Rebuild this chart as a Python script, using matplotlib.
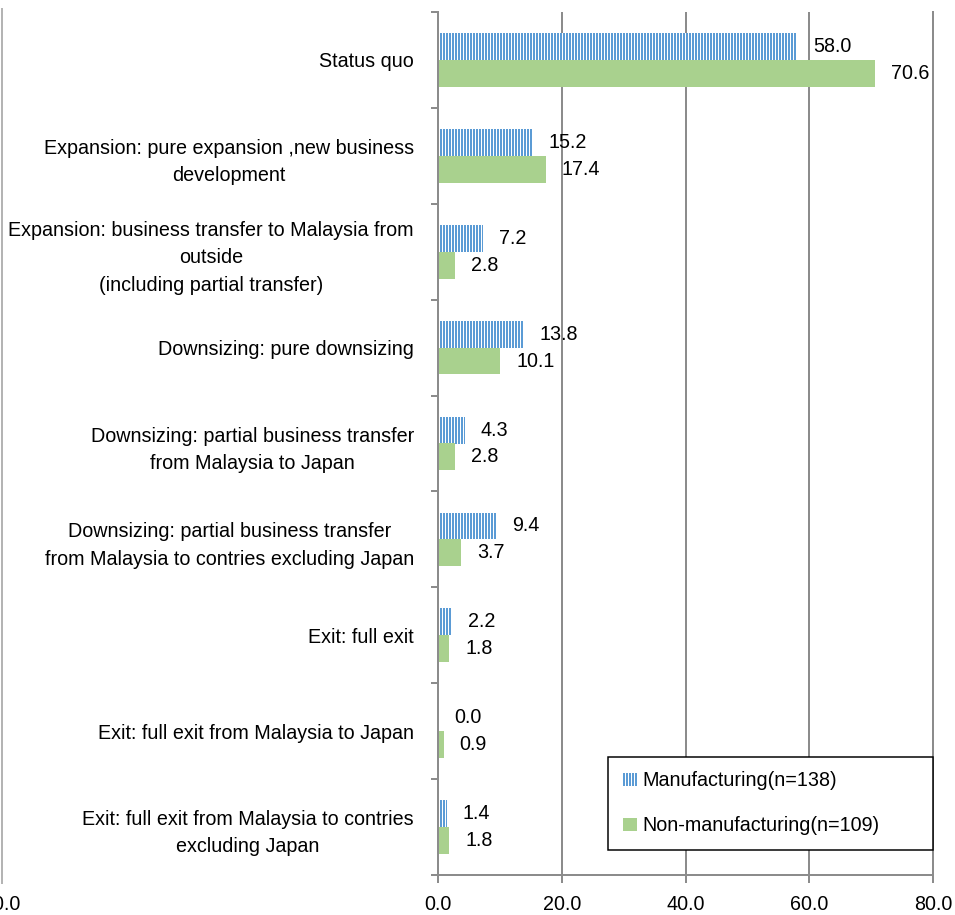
import numpy as np
import matplotlib
matplotlib.use('Agg')
import matplotlib.pyplot as plt
from matplotlib import font_manager
from matplotlib.lines import Line2D

# Data (percent)
categories = [
    'Status quo',
    'Expansion: pure expansion ,new business\ndevelopment',
    'Expansion: business transfer to Malaysia from\noutside\n(including partial transfer)',
    'Downsizing: pure downsizing',
    'Downsizing: partial business transfer\nfrom Malaysia to Japan',
    'Downsizing: partial business transfer\nfrom Malaysia to contries excluding Japan',
    'Exit: full exit',
    'Exit: full exit from Malaysia to Japan',
    'Exit: full exit from Malaysia to contries\nexcluding Japan',
]
manufacturing = [58.0, 15.2, 7.2, 13.8, 4.3, 9.4, 2.2, 0.0, 1.4]
non_manufacturing = [70.6, 17.4, 2.8, 10.1, 2.8, 3.7, 1.8, 0.9, 1.8]
series_names = ['Manufacturing(n=138)', 'Non-manufacturing(n=109)']
x_ticks = [0, 20, 40, 60, 80]

BLUE = '#5B9BD5'
GREEN = '#A9D18E'
GRAY = '#8C8C8C'

# pick a narrow font if available (the reference text is condensed)
names = {f.name for f in font_manager.fontManager.ttflist}
if 'Liberation Sans Narrow' in names:
    FONT, FS = 'Liberation Sans Narrow', 23
else:
    FONT, FS = 'Liberation Sans', 19.8
plt.rcParams['font.family'] = [FONT, 'DejaVu Sans']
plt.rcParams['font.size'] = FS
plt.rcParams['hatch.linewidth'] = 1.0

W, H = 955, 915
fig = plt.figure(figsize=(W / 72, H / 72), dpi=72)
ax = fig.add_axes([438 / W, 40 / H, 495 / W, 863 / H])

y = np.arange(len(categories))
bh = 0.28
# blue bars with thin white vertical stripes
ax.barh(y - bh / 2, manufacturing, height=bh, facecolor=BLUE, edgecolor='white',
        hatch='||||', linewidth=0, label=series_names[0])
ax.barh(y + bh / 2, non_manufacturing, height=bh, color=GREEN, linewidth=0,
        label=series_names[1])

for i, (m, n) in enumerate(zip(manufacturing, non_manufacturing)):
    ax.annotate(f'{m:.1f}', xy=(m, i - bh / 2), xytext=(16, 0), textcoords='offset points',
                ha='left', va='center')
    ax.annotate(f'{n:.1f}', xy=(n, i + bh / 2), xytext=(16, 0), textcoords='offset points',
                ha='left', va='center')

ax.set_xlim(0, 80)
ax.set_ylim(len(categories) - 0.5, -0.5)
ax.set_xticks(x_ticks)
ax.set_xticklabels([f'{v:.1f}' for v in x_ticks])
ax.set_yticks(y)
ax.set_yticklabels(categories, ha='right', multialignment='center', linespacing=1.55)
ax.set_yticks(np.arange(len(categories) + 1) - 0.5, minor=True)

ax.tick_params(axis='y', which='major', length=0, pad=24)
ax.tick_params(axis='y', which='minor', length=7, width=2, color=GRAY)
ax.tick_params(axis='x', length=8, width=2, color=GRAY, pad=12)

ax.xaxis.grid(True, color=GRAY, linewidth=2)
ax.set_axisbelow(True)
for side in ['left', 'bottom', 'right']:
    ax.spines[side].set_color(GRAY)
    ax.spines[side].set_linewidth(2)
ax.spines['top'].set_visible(False)

leg = ax.legend(loc='lower left', mode='expand',
                bbox_to_anchor=((608 - 438) / 495, 25 / 863, (933 - 608) / 495, 0),
                borderaxespad=0, fancybox=False, edgecolor='black', framealpha=1,
                handlelength=0.7, handleheight=0.65, handletextpad=0.3,
                labelspacing=1.3, borderpad=0.75)
leg.get_frame().set_linewidth(1.5)

# remnant of a neighbouring chart at the left edge
fig.add_artist(Line2D([1.5 / W, 1.5 / W], [1 - 9 / H, 1 - 883 / H], color='#B4B4B4',
                      linewidth=2, transform=fig.transFigure))
fig.text(1 / W, 1 - 904 / H, '80.0', ha='center', va='center')

fig.savefig('out.png', dpi=72)
